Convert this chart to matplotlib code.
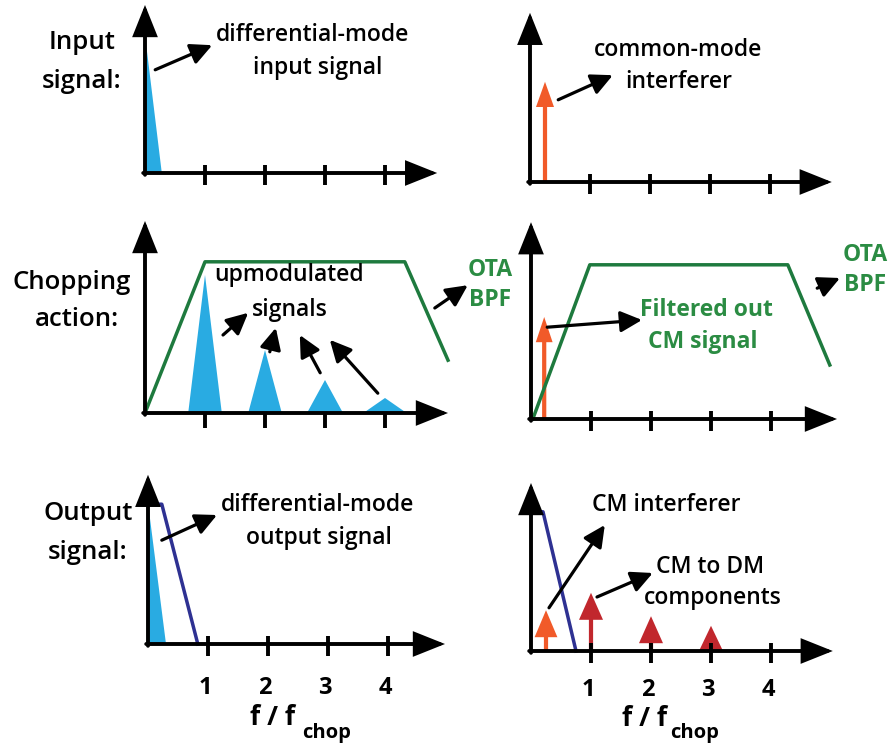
import matplotlib.pyplot as plt

plt.rcParams['font.family'] = ['Open Sans', 'DejaVu Sans']
plt.rcParams['font.weight'] = 'semibold'

W, H = 891, 746
UNIT = 60  # pixels per f/f_chop unit

BLUE = '#29ABE2'
ORANGE = '#F15A29'
RED = '#C1272D'
GREEN = '#1E7A3E'
GREEN_TXT = '#2B8C43'
NAVY = '#2E3192'

# --- data (x in f/f_chop, y in arbitrary amplitude units) ---
tick_pos = [1, 2, 3, 4]
tick_labels = ['1', '2', '3', '4']

# differential-mode baseband signal (input / output)
dm_in_x = [0, 0, 0.28]
dm_in_y = [0, 2.3, 0]
dm_out_x = [0, 0, 0.3]
dm_out_y = [0, 2.35, 0]

# common-mode interferer amplitude
cm_freq = 0.25
cm_amp_in = 1.67
cm_amp_chop = 1.7
cm_amp_out = 0.68

# upmodulated signals at the chopping harmonics
harm_freq = [1, 2, 3, 4]
harm_amp = [2.3, 1.05, 0.55, 0.25]
harm_halfwidth = [0.28, 0.28, 0.3, 0.36]

# OTA band-pass response
bpf_left_x = [0, 1.0, 4.33, 5.05]
bpf_left_y = [0, 2.52, 2.52, 0.88]
bpf_right_x = [0.03, 0.98, 4.28, 4.98]
bpf_right_y = [0, 2.57, 2.57, 0.9]

# output low-pass response
lpf_left_x = [0.03, 0.23, 0.83]
lpf_left_y = [2.33, 2.33, 0]
lpf_right_x = [0.03, 0.2, 0.75]
lpf_right_y = [2.32, 2.32, 0]

# CM to DM components
cmdm_freq = [1, 2, 3]
cmdm_amp = [0.97, 0.58, 0.42]

fig = plt.figure(figsize=(W / 100, H / 100), dpi=100)


def panel(ox, oy):
    # full-figure transparent axes with origin at pixel (ox, oy)
    ax = fig.add_axes([0, 0, 1, 1])
    ax.set_xlim(-ox / UNIT, (W - ox) / UNIT)
    ax.set_ylim((oy - H) / UNIT, oy / UNIT)
    ax.axis('off')
    return ax


def frame(ax, xtip, ytip, tick_lo=-0.2, tick_hi=0.13):
    ap = dict(arrowstyle='-|>,head_length=0.9,head_width=0.36', lw=2.8,
              color='black', shrinkA=0, shrinkB=0, mutation_scale=20,
              joinstyle='miter')
    ax.annotate('', xy=(xtip, 0), xytext=(-0.03, 0), arrowprops=ap)
    ax.annotate('', xy=(0, ytip), xytext=(0, -0.03), arrowprops=ap)
    for t in tick_pos:
        ax.plot([t, t], [tick_lo, tick_hi], color='black', lw=2.8,
                solid_capstyle='butt')


def pointer(ax, start, end):
    ax.annotate('', xy=end, xytext=start,
                arrowprops=dict(arrowstyle='-|>,head_length=0.65,head_width=0.32',
                                lw=2.3, color='black', shrinkA=0, shrinkB=0,
                                mutation_scale=20))


def spike(ax, x, h, color, width=0.07, head_w=0.32, head_l=0.42):
    ax.arrow(x, 0, 0, h, width=width, head_width=head_w,
             head_length=min(head_l, h), length_includes_head=True,
             color=color, lw=0)


def label(ax, x, y, s, size=16.5, **kw):
    ax.text(x, y, s, ha='center', va='center', fontsize=size, **kw)


def freq_axis_labels(ax, ylab, fx, fy, cx, cy):
    for t, s in zip(tick_pos, tick_labels):
        ax.text(t - 0.05, ylab, s, ha='center', va='center', fontsize=17,
                fontweight='bold')
    ax.text(fx, fy, 'f / f', ha='center', va='center', fontsize=19,
            fontweight='bold')
    ax.text(cx, cy, 'chop', ha='center', va='center', fontsize=14.5,
            fontweight='bold')


# --- input signal, differential mode ---
ax = panel(145, 173)
ax.fill(dm_in_x, dm_in_y, color=BLUE, lw=0)
frame(ax, 4.87, 2.8)
label(ax, -1.05, 2.17, 'Input', size=18.5)
label(ax, -1.05, 1.52, 'signal:', size=18.5)
label(ax, 2.8, 2.3, 'differential-mode')
label(ax, 2.87, 1.75, 'input signal')
pointer(ax, (0.17, 1.72), (1.12, 2.13))

# --- input signal, common mode ---
ax = panel(530, 182)
spike(ax, cm_freq, cm_amp_in, ORANGE, head_w=0.3)
frame(ax, 5.03, 2.82)
label(ax, 2.47, 2.2, 'common-mode')
label(ax, 2.48, 1.67, 'interferer')
pointer(ax, (0.47, 1.37), (1.38, 1.78))

# --- chopping action, differential mode ---
ax = panel(145, 413)
for f, a, hw in zip(harm_freq, harm_amp, harm_halfwidth):
    ax.fill([f - hw, f, f + hw], [0, a, 0], color=BLUE, lw=0)
ax.plot(bpf_left_x, bpf_left_y, color=GREEN, lw=2.5)
frame(ax, 5.05, 3.2, tick_lo=-0.25, tick_hi=0)
label(ax, -1.22, 2.18, 'Chopping', size=18.5)
label(ax, -1.13, 1.55, 'action:', size=18.5)
label(ax, 2.4, 2.3, 'upmodulated')
label(ax, 2.42, 1.72, 'signals')
pointer(ax, (1.3, 1.3), (1.72, 1.67))
pointer(ax, (2.08, 1.02), (2.18, 1.42))
pointer(ax, (2.92, 0.67), (2.58, 1.3))
pointer(ax, (3.88, 0.33), (3.08, 1.22))
label(ax, 5.75, 2.38, 'OTA', size=16.5, color=GREEN_TXT, fontweight='bold')
label(ax, 5.75, 1.88, 'BPF', size=16.5, color=GREEN_TXT, fontweight='bold')
pointer(ax, (4.83, 1.75), (5.38, 2.13))

# --- chopping action, common mode ---
ax = panel(531, 419)
ax.plot(bpf_right_x, bpf_right_y, color=GREEN, lw=2.5)
spike(ax, 0.22, cm_amp_chop, ORANGE, head_w=0.28)
frame(ax, 5.1, 3.28)
label(ax, 2.92, 1.82, 'Filtered out', size=16.5, color=GREEN_TXT, fontweight='bold')
label(ax, 2.87, 1.28, 'CM signal', size=16.5, color=GREEN_TXT, fontweight='bold')
pointer(ax, (0.27, 1.53), (1.85, 1.65))
label(ax, 5.57, 2.73, 'OTA', size=16.5, color=GREEN_TXT, fontweight='bold')
label(ax, 5.57, 2.23, 'BPF', size=16.5, color=GREEN_TXT, fontweight='bold')
pointer(ax, (4.77, 2.18), (5.15, 2.35))

# --- output signal, differential mode ---
ax = panel(148, 644)
ax.fill(dm_out_x, dm_out_y, color=BLUE, lw=0)
ax.plot(lpf_left_x, lpf_left_y, color=NAVY, lw=2.5)
frame(ax, 4.95, 2.82)
label(ax, -1.0, 2.18, 'Output', size=18.5)
label(ax, -1.0, 1.53, 'signal:', size=18.5)
label(ax, 2.82, 2.32, 'differential-mode')
label(ax, 2.85, 1.77, 'output signal')
pointer(ax, (0.23, 1.73), (1.15, 2.15))
freq_axis_labels(ax, -0.73, 2.08, -1.23, 2.98, -1.48)

# --- output signal, common mode ---
ax = panel(531, 651)
ax.plot(lpf_right_x, lpf_right_y, color=NAVY, lw=2.5)
spike(ax, cm_freq, cm_amp_out, ORANGE, head_w=0.38, head_l=0.45)
for f, a in zip(cmdm_freq, cmdm_amp):
    spike(ax, f, a, RED, head_w=0.4, head_l=0.45)
frame(ax, 5.03, 2.8)
label(ax, 2.25, 2.43, 'CM interferer')
pointer(ax, (0.3, 0.72), (1.23, 2.1))
label(ax, 2.98, 1.4, 'CM to DM')
label(ax, 3.03, 0.88, 'components')
pointer(ax, (1.1, 0.9), (2.03, 1.3))
freq_axis_labels(ax, -0.65, 1.9, -1.12, 2.72, -1.37)

fig.savefig('out.png', dpi=100)
